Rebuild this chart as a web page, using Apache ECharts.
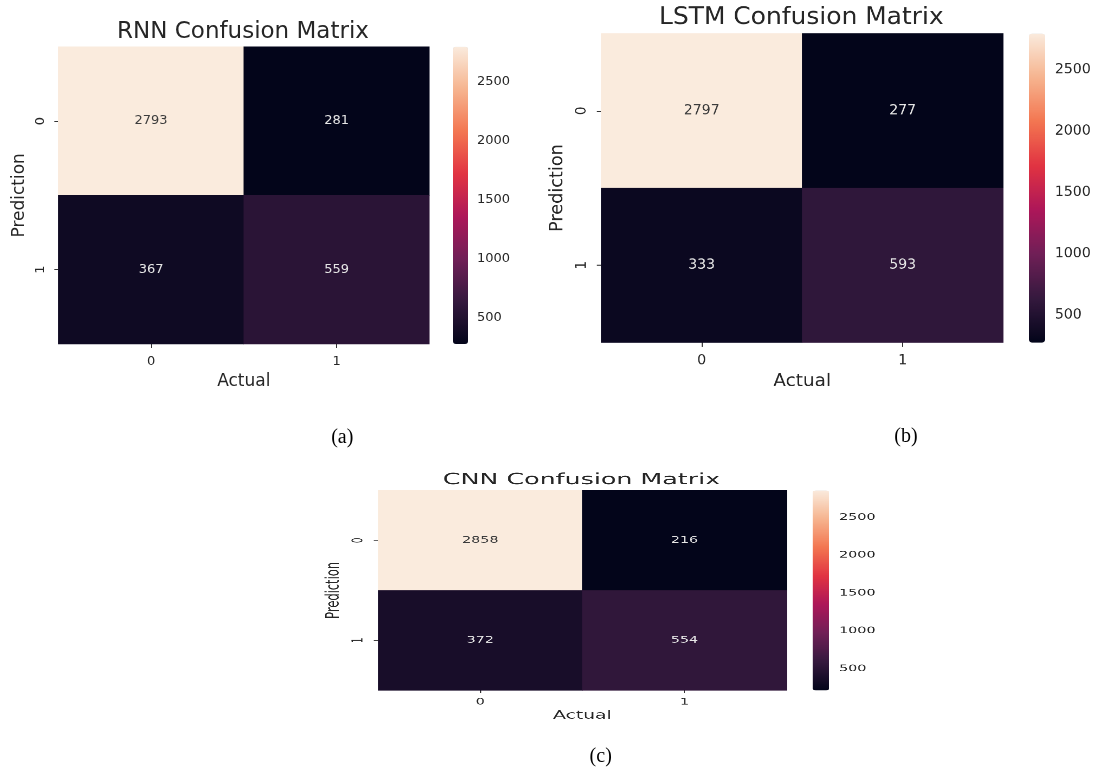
<!DOCTYPE html>
<html><head><meta charset="utf-8">
<script src="https://cdn.jsdelivr.net/npm/echarts@6/dist/echarts.min.js"></script>
<style>
html,body{margin:0;padding:0;background:#fff;overflow:hidden;width:1095px;height:769px}
#main{position:absolute;left:0;top:0;width:1095px;height:769px}
.panel{position:absolute;width:520px;height:400px;transform-origin:0 0}
</style></head><body>
<div id="main"></div>
<div id="lstm" class="panel" style="left:538.1px;top:-15.2px;transform:scale(1.0836,1.0394)"></div>
<div id="cnn" class="panel" style="left:314.1px;top:459.3px;transform:scale(1.1008,0.6727)"></div>
<script>
// ---- data ----
const actualLabels = ['0', '1'];
const predictionLabels = ['0', '1'];
const colorbarTicks = [500, 1000, 1500, 2000, 2500];
// rows = prediction (0,1), columns = actual (0,1)
const rnnValues = [[2793, 281], [367, 559]];
const lstmValues = [[2797, 277], [333, 593]];
const cnnValues = [[2858, 216], [372, 554]];
const titles = ['RNN Confusion Matrix', 'LSTM Confusion Matrix', 'CNN Confusion Matrix'];
const captions = ['(a)', '(b)', '(c)'];
const rocket = ['#03051a', '#35193e', '#701f57', '#ad1759', '#e13342', '#f37651', '#f6b48f', '#faebdd'];

const FONT = 'DejaVu Sans';
const TXT = '#262626';

function buildPanel(title, values) {
  const flat = [];
  values.forEach(row => row.forEach(v => flat.push(v)));
  const vmin = Math.min(...flat), vmax = Math.max(...flat);
  const mid = (vmin + vmax) / 2;
  const data = [];
  values.forEach((row, yi) => row.forEach((v, xi) => {
    data.push({ value: [xi, yi, v], label: { color: v > mid ? '#3c3c3c' : '#e6e6e6' } });
  }));
  const G = { left: 58.3, top: 46.7, width: 371, height: 297.3 };
  const CB = { left: 453, top: 46.7, width: 15, height: 297.3 };
  return {
    animation: false,
    textStyle: { fontFamily: FONT },
    grid: [
      { left: G.left, top: G.top, width: G.width, height: G.height },
      { left: CB.left, top: CB.top, width: CB.width, height: CB.height }
    ],
    xAxis: [
      {
        type: 'category', gridIndex: 0, data: actualLabels,
        name: 'Actual', nameLocation: 'middle', nameGap: 29,
        nameTextStyle: { fontSize: 17, color: TXT, fontFamily: FONT },
        axisLine: { show: false },
        axisTick: { show: true, alignWithLabel: true, length: 4, lineStyle: { color: '#333' } },
        axisLabel: { fontSize: 13, color: TXT, margin: 11, fontFamily: FONT },
        splitArea: { show: false }, splitLine: { show: false }
      },
      { type: 'value', gridIndex: 1, show: false, min: 0, max: 1 }
    ],
    yAxis: [
      {
        type: 'category', gridIndex: 0, data: predictionLabels, inverse: true,
        name: 'Prediction', nameLocation: 'middle', nameGap: 30, nameRotate: 90,
        nameTextStyle: { fontSize: 17, color: TXT, fontFamily: FONT },
        axisLine: { show: false },
        axisTick: { show: true, alignWithLabel: true, length: 4, lineStyle: { color: '#333' } },
        axisLabel: { fontSize: 13, color: TXT, margin: 11, rotate: 90, fontFamily: FONT },
        splitArea: { show: false }, splitLine: { show: false }
      },
      {
        type: 'value', gridIndex: 1, position: 'right', min: vmin, max: vmax,
        axisLine: { show: false }, splitLine: { show: false },
        axisTick: { show: true, length: 4, customValues: colorbarTicks, lineStyle: { color: '#333' } },
        axisLabel: { customValues: colorbarTicks, fontSize: 13, color: TXT, margin: 9, fontFamily: FONT,
                     formatter: v => String(v) }
      }
    ],
    visualMap: {
      type: 'continuous', min: vmin, max: vmax, seriesIndex: 0,
      calculable: false, orient: 'vertical', left: CB.left, top: CB.top,
      itemWidth: CB.width, itemHeight: CB.height, padding: 0,
      inRange: { color: rocket }, hoverLink: false
    },
    series: [{
      type: 'heatmap', xAxisIndex: 0, yAxisIndex: 0, data: data,
      label: { show: true, fontSize: 13, fontFamily: FONT, formatter: p => String(p.value[2]) },
      itemStyle: { borderWidth: 0 },
      emphasis: { disabled: true }
    }],
    graphic: [{
      type: 'text', x: 243, y: 31.7, silent: true,
      style: { text: title, fontSize: 23, fill: TXT, align: 'center', verticalAlign: 'middle', fontFamily: FONT }
    }]
  };
}

const mainOpt = buildPanel(titles[0], rnnValues);
const capStyle = { fontSize: 20, fill: '#000', align: 'center', verticalAlign: 'middle', fontFamily: 'Liberation Serif' };
mainOpt.graphic.push(
  { type: 'text', x: 342.3, y: 437.5, silent: true, style: Object.assign({ text: captions[0] }, capStyle) },
  { type: 'text', x: 906, y: 436.5, silent: true, style: Object.assign({ text: captions[1] }, capStyle) },
  { type: 'text', x: 600.7, y: 756.5, silent: true, style: Object.assign({ text: captions[2] }, capStyle) }
);
mainOpt.backgroundColor = '#ffffff';

echarts.init(document.getElementById('main')).setOption(mainOpt);
echarts.init(document.getElementById('lstm'), null, { devicePixelRatio: 2 }).setOption(buildPanel(titles[1], lstmValues));
echarts.init(document.getElementById('cnn'), null, { devicePixelRatio: 2 }).setOption(buildPanel(titles[2], cnnValues));
</script>
</body></html>
